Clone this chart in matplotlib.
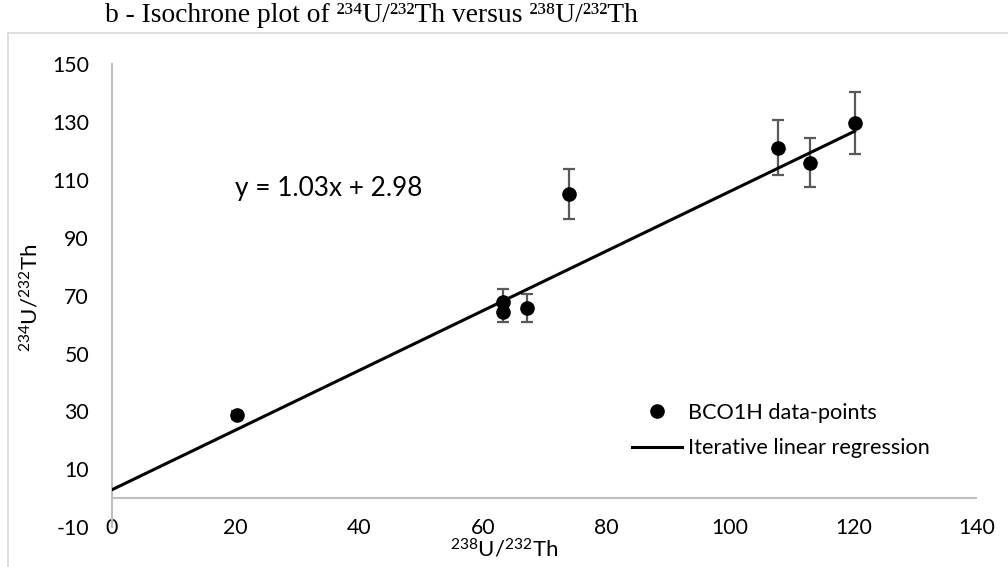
import matplotlib.pyplot as plt
from matplotlib.lines import Line2D
import numpy as np

plt.rcParams['font.family'] = ['Lato', 'DejaVu Sans']
plt.rcParams['mathtext.fontset'] = 'custom'
plt.rcParams['mathtext.rm'] = 'Lato'
plt.rcParams['mathtext.it'] = 'Lato:italic'
plt.rcParams['mathtext.bf'] = 'Lato:bold'
plt.rcParams['axes.unicode_minus'] = False

# BCO1H isochrone data
u238_th232 = [20.2, 63.3, 63.3, 67.2, 74.0, 107.8, 113.0, 120.2]
u234_th232 = [28.8, 67.9, 64.5, 65.7, 105.2, 121.0, 115.9, 129.7]
u234_err = [1.5, 4.4, 3.5, 4.8, 8.7, 9.5, 8.5, 10.7]

# iterative linear regression result
slope = 1.03
intercept = 2.98
fit_x = [0, 120.2]

x_ticks = [0, 20, 40, 60, 80, 100, 120, 140]
y_ticks = [-10, 10, 30, 50, 70, 90, 110, 130, 150]

grey = '#bfbfbf'

fig = plt.figure(figsize=(10.08, 5.67), dpi=100)
ax = fig.add_axes([0.1111, 0.0700, 0.8581, 0.8171])

ax.errorbar(u238_th232, u234_th232, yerr=u234_err, fmt='none', ecolor='#595959',
            elinewidth=1.6, capsize=4.5, capthick=1.6, zorder=2)
ax.plot(u238_th232, u234_th232, 'o', color='black', markersize=9.5, zorder=3)

fx = np.array(fit_x)
ax.plot(fx, slope * fx + intercept, color='black', linewidth=2.2, zorder=4)

ax.text(35, 107, 'y = %.2fx + %.2f' % (slope, intercept), fontsize=18.8,
        ha='center', va='center')

ax.set_xlim(0, 140)
ax.set_ylim(-10, 150)
ax.set_xticks(x_ticks)
ax.set_yticks(y_ticks)

for side in ['top', 'right', 'bottom']:
    ax.spines[side].set_visible(False)
ax.spines['left'].set_color(grey)
ax.spines['left'].set_linewidth(1.5)
ax.axhline(0, color=grey, linewidth=1.5, zorder=1)

ax.tick_params(axis='both', length=0, labelsize=15.3, colors='black')
ax.tick_params(axis='y', pad=16.5)
ax.tick_params(axis='x', pad=-6.5)

handles = [
    Line2D([], [], marker='o', linestyle='none', color='black', markersize=9.5),
    Line2D([], [], color='black', linewidth=2.2),
]
fig.legend(handles, ['BCO1H data-points', 'Iterative linear regression'],
           loc='upper left', bbox_to_anchor=(632 / 1008, 1 - 403 / 567),
           frameon=False, fontsize=15.6, handlelength=2.3, handletextpad=0.3,
           labelspacing=0.7, borderpad=0, borderaxespad=0)

fig.text(30 / 1008, 0.475, r'$^{234}$U/$^{232}$Th', rotation=90,
         ha='center', va='center', fontsize=16)
fig.text(504 / 1008, 1 - 549 / 567, r'$^{238}$U/$^{232}$Th',
         ha='center', va='center', fontsize=16)

fig.text(105 / 1008, 1 - 16 / 567,
         'b - Isochrone plot of ²³⁴U/²³²Th versus ²³⁸U/²³²Th',
         family=['Liberation Serif', 'DejaVu Serif'], fontsize=19.8,
         ha='left', va='center')

# chart area border
fig.add_artist(Line2D([8 / 1008, 8 / 1008], [0, 1 - 33 / 567],
                      transform=fig.transFigure, color='#d9d9d9', linewidth=1.2))
fig.add_artist(Line2D([8 / 1008, 1], [1 - 33 / 567, 1 - 33 / 567],
                      transform=fig.transFigure, color='#d9d9d9', linewidth=1.2))

fig.savefig('out.png', dpi=100)
